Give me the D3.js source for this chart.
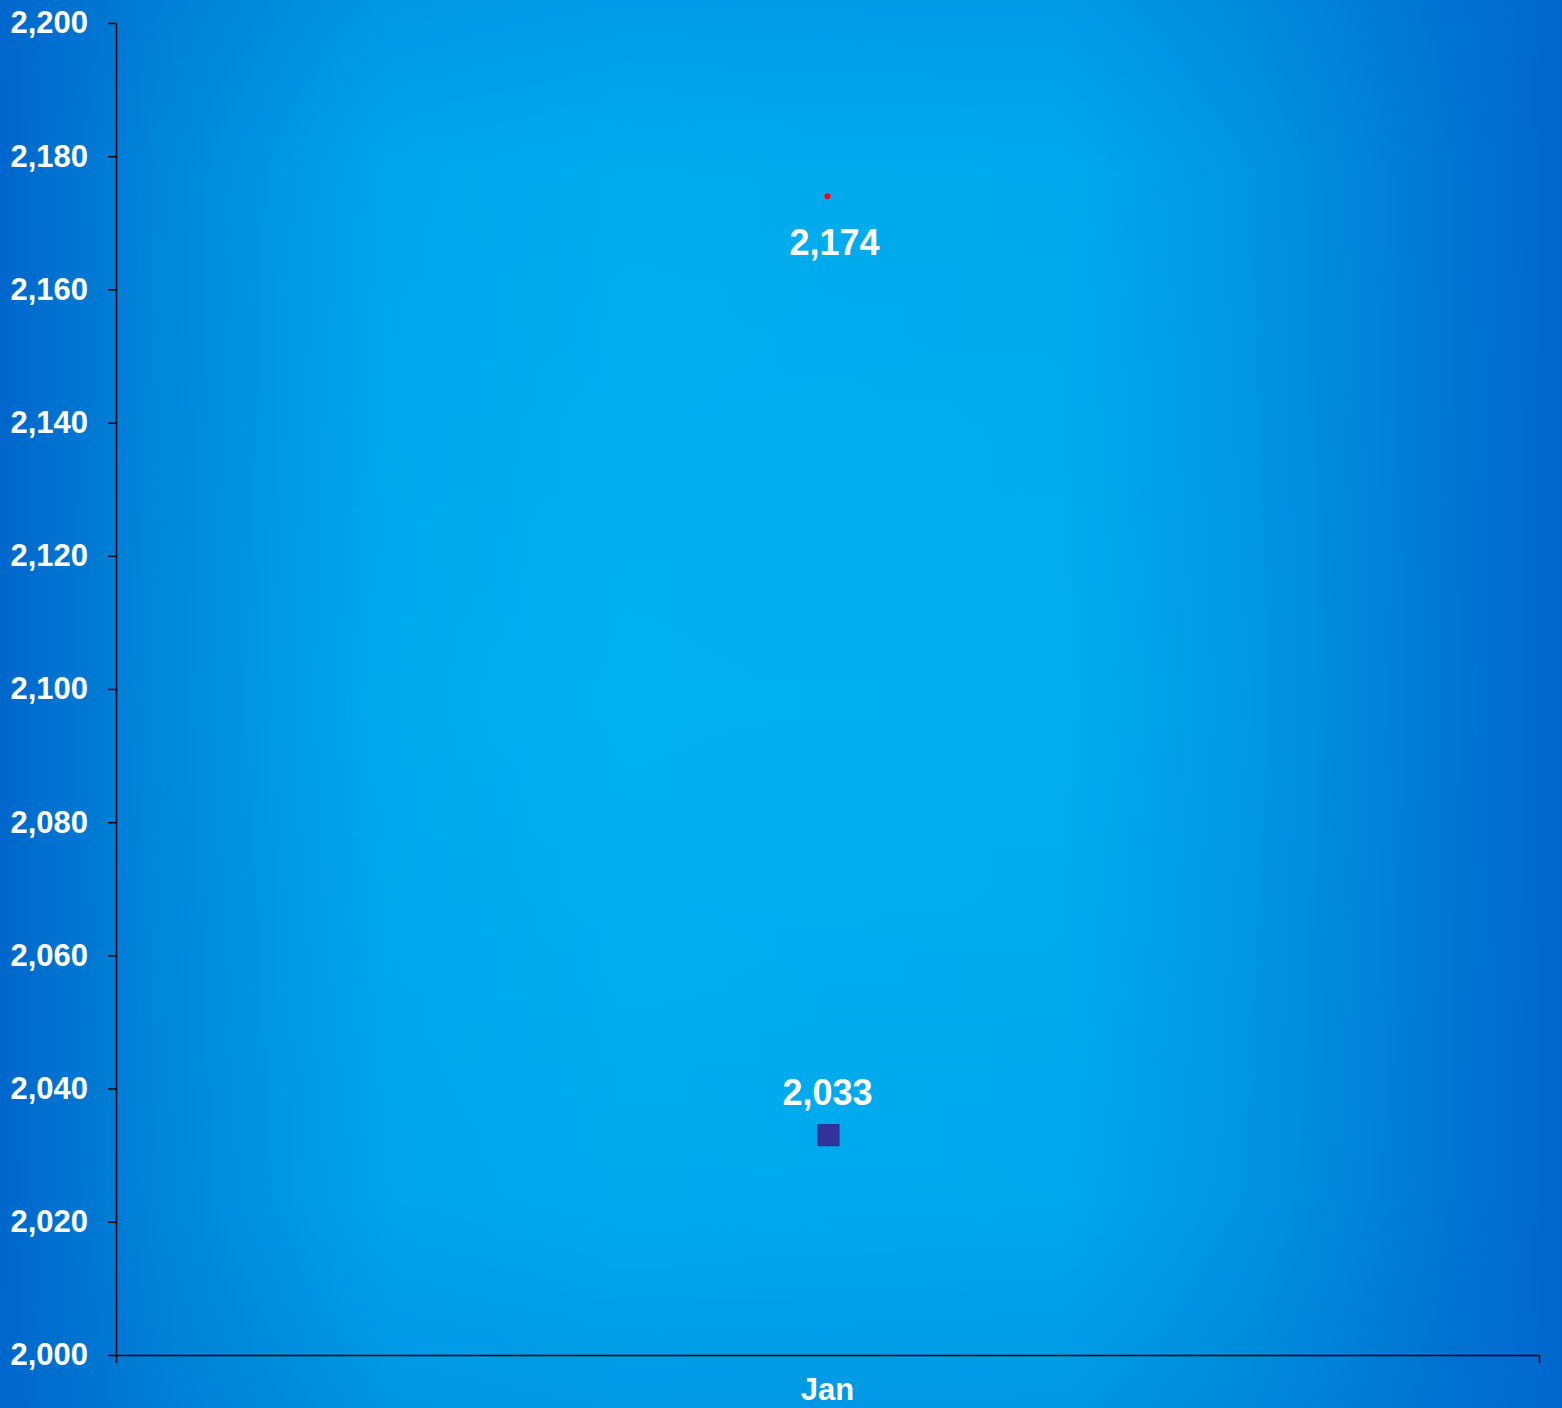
<!DOCTYPE html>
<html>
<head>
<meta charset="utf-8">
<script src="https://cdn.jsdelivr.net/npm/d3@7"></script>
<style>
  html, body { margin: 0; padding: 0; overflow: hidden; }
  svg { display: block; font-family: Arial, "Liberation Sans", sans-serif; }
</style>
</head>
<body>
<div id="chart"></div>
<script>
// chart data
var categories = ["Jan"];
var dotValues = [2174];     // red dot series
var squareValues = [2033];  // navy square series
var yTicks = [2000, 2020, 2040, 2060, 2080, 2100, 2120, 2140, 2160, 2180, 2200];

var width = 1562, height = 1408;
var margin = { top: 23, right: 23, bottom: 53, left: 116 };

var svg = d3.select("#chart").append("svg")
    .attr("width", width)
    .attr("height", height);

// background gradients
var defs = svg.append("defs");
var hg = defs.append("linearGradient").attr("id", "bgH")
    .attr("x1", "0%").attr("x2", "100%").attr("y1", "0%").attr("y2", "0%");
[["0%", "#0066cc"], ["10%", "#0088d9"], ["25%", "#00aaed"], ["40%", "#00b0f0"],
 ["68%", "#00aeef"], ["80%", "#0098e2"], ["100%", "#0066cc"]].forEach(function (s) {
    hg.append("stop").attr("offset", s[0]).attr("stop-color", s[1]);
});
var vg = defs.append("linearGradient").attr("id", "bgV")
    .attr("x1", "0%").attr("x2", "0%").attr("y1", "0%").attr("y2", "100%");
[["0%", 0.28], ["12%", 0.06], ["50%", 0], ["85%", 0.08], ["100%", 0.32]].forEach(function (s) {
    vg.append("stop").attr("offset", s[0]).attr("stop-color", "#0066cc").attr("stop-opacity", s[1]);
});

svg.append("rect").attr("width", width).attr("height", height).attr("fill", "url(#bgH)");
svg.append("rect").attr("width", width).attr("height", height).attr("fill", "url(#bgV)");

// scales
var x = d3.scaleBand()
    .domain(categories)
    .range([margin.left, width - margin.right]);

var y = d3.scaleLinear()
    .domain([2000, 2200])
    .range([height - margin.bottom, margin.top]);

var fmt = d3.format(",");

// y axis
var yAxis = svg.append("g")
    .attr("transform", "translate(" + margin.left + ",0)")
    .call(d3.axisLeft(y).tickValues(yTicks).tickFormat(fmt).tickSizeInner(8).tickSizeOuter(0).tickPadding(20));

yAxis.select(".domain").attr("stroke", "#000").attr("stroke-width", 1.5);
yAxis.selectAll(".tick line").attr("stroke", "#000").attr("stroke-width", 1.5);
yAxis.selectAll(".tick text")
    .attr("fill", "#fff")
    .attr("font-size", "31px")
    .attr("font-weight", "bold")
    .attr("font-family", "Arial, 'Liberation Sans', sans-serif");

// x axis
var xAxis = svg.append("g")
    .attr("transform", "translate(0," + (height - margin.bottom) + ")")
    .call(d3.axisBottom(x).tickSize(0).tickSizeOuter(8).tickPadding(23));

xAxis.select(".domain").attr("stroke", "#000").attr("stroke-width", 1.5);
xAxis.selectAll(".tick text")
    .attr("fill", "#fff")
    .attr("font-size", "31px")
    .attr("font-weight", "bold")
    .attr("font-family", "Arial, 'Liberation Sans', sans-serif");

var cx = function (d, i) { return x(categories[i]) + x.bandwidth() / 2; };

// red dot series
svg.selectAll(".dot")
    .data(dotValues)
    .enter()
    .append("circle")
    .attr("class", "dot")
    .attr("cx", cx)
    .attr("cy", function (d) { return y(d); })
    .attr("r", 3)
    .attr("fill", "#ff0000");

svg.selectAll(".dotLabel")
    .data(dotValues)
    .enter()
    .append("text")
    .attr("class", "dotLabel")
    .attr("x", function (d, i) { return cx(d, i) + 7; })
    .attr("y", function (d) { return y(d) + 59; })
    .attr("text-anchor", "middle")
    .attr("fill", "#fff")
    .attr("font-size", "36px")
    .attr("font-weight", "bold")
    .text(function (d) { return fmt(d); });

// navy square series
var sq = 21;
svg.selectAll(".sq")
    .data(squareValues)
    .enter()
    .append("rect")
    .attr("class", "sq")
    .attr("x", function (d, i) { return cx(d, i) - sq / 2 + 1; })
    .attr("y", function (d) { return y(d) - sq / 2; })
    .attr("width", sq)
    .attr("height", sq)
    .attr("fill", "#333399")
    .attr("stroke", "#2a2a88")
    .attr("stroke-width", 1);

svg.selectAll(".sqLabel")
    .data(squareValues)
    .enter()
    .append("text")
    .attr("class", "sqLabel")
    .attr("x", cx)
    .attr("y", function (d) { return y(d) - 30; })
    .attr("text-anchor", "middle")
    .attr("fill", "#fff")
    .attr("font-size", "36px")
    .attr("font-weight", "bold")
    .text(function (d) { return fmt(d); });
</script>
</body>
</html>
